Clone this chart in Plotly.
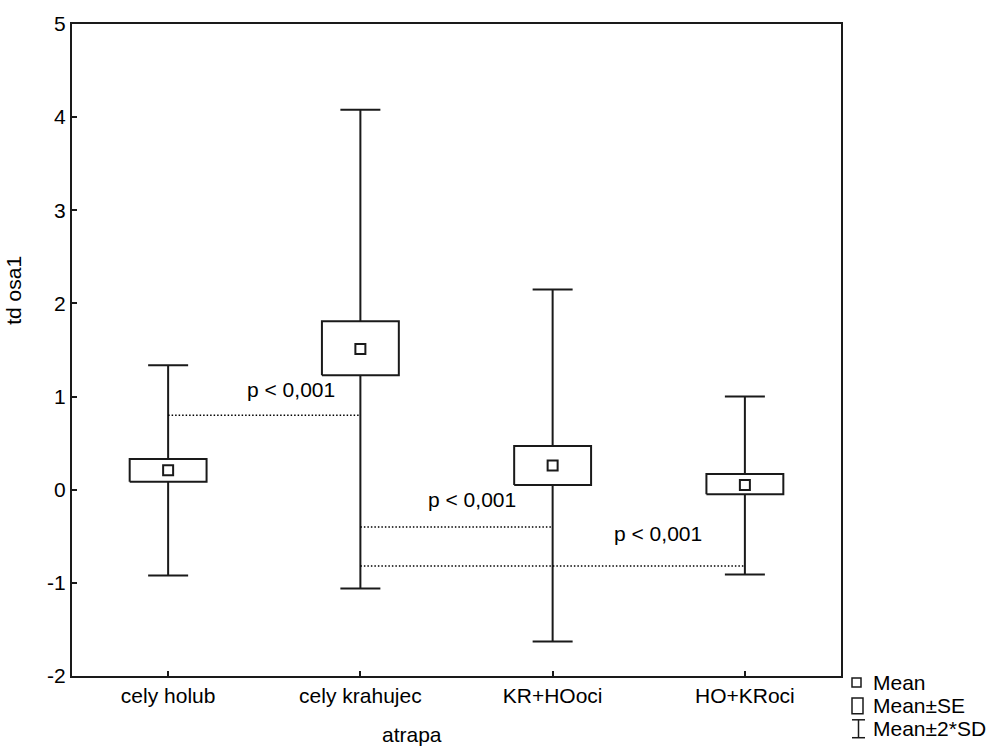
import plotly.graph_objects as go

categories = ["cely holub", "cely krahujec", "KR+HOoci", "HO+KRoci"]
mean_vals = [0.21, 1.51, 0.26, 0.05]
se_low = [0.085, 1.23, 0.05, -0.05]
se_high = [0.33, 1.81, 0.47, 0.17]
sd2_low = [-0.92, -1.06, -1.63, -0.91]
sd2_high = [1.335, 4.08, 2.15, 1.00]

# significance lines: (from category index, to category index, y level)
sig_from = [1, 2, 2]
sig_to = [2, 3, 4]
sig_y = [0.80, -0.40, -0.82]
sig_label = ["p < 0,001", "p < 0,001", "p < 0,001"]
sig_label_x = [1.64, 2.58, 3.55]
sig_label_y = [1.08, -0.10, -0.47]

y_ticks = [-2, -1, 0, 1, 2, 3, 4, 5]
y_ticktext = ["-2", "-1", "0", "1", "2", "3", "4", "5"]

FONT = "Liberation Sans, Arial, sans-serif"
INK = "#1a1a1a"
FS = 21

xs = list(range(1, len(categories) + 1))

fig = go.Figure()

# whiskers (Mean ± 2*SD)
fig.add_trace(go.Scatter(
    x=xs, y=mean_vals, mode="markers",
    marker=dict(size=1, color="rgba(0,0,0,0)"),
    error_y=dict(type="data", symmetric=False,
                 array=[h - m for h, m in zip(sd2_high, mean_vals)],
                 arrayminus=[m - l for m, l in zip(mean_vals, sd2_low)],
                 color=INK, thickness=2, width=20),
    hoverinfo="skip", showlegend=False))

# SE boxes
hw = 0.2
for x, lo, hi in zip(xs, se_low, se_high):
    fig.add_trace(go.Scatter(
        x=[x - hw, x + hw, x + hw, x - hw, x - hw],
        y=[lo, lo, hi, hi, lo],
        mode="lines", fill="toself", fillcolor="white",
        line=dict(color=INK, width=2),
        hoverinfo="skip", showlegend=False))

# mean markers
fig.add_trace(go.Scatter(
    x=xs, y=mean_vals, mode="markers",
    marker=dict(symbol="square", size=10, color="white",
                line=dict(color=INK, width=2)),
    showlegend=False))

# significance dotted lines
for a, b, yv in zip(sig_from, sig_to, sig_y):
    fig.add_trace(go.Scatter(
        x=[a, b], y=[yv, yv], mode="lines",
        line=dict(color="black", width=1.5, dash="1.5px,2px"),
        hoverinfo="skip", showlegend=False))

for lx, ly, t in zip(sig_label_x, sig_label_y, sig_label):
    fig.add_annotation(x=lx, y=ly, text=t, showarrow=False,
                       xref="x", yref="y", xanchor="center", yanchor="middle",
                       font=dict(family=FONT, size=FS, color="black"))

# layout geometry (pixels)
L, R, T, B = 72, 147, 21, 71
W, H = 988, 747
pw = W - L - R
ph = H - T - B


def px(xp):
    return (xp - L) / pw


def py(yp):
    return (H - B - yp) / ph


# axis titles
fig.add_annotation(x=px(412), y=py(735), xref="paper", yref="paper",
                   text="atrapa", showarrow=False,
                   xanchor="center", yanchor="middle",
                   font=dict(family=FONT, size=FS, color="black"))
fig.add_annotation(x=px(14), y=py(289), xref="paper", yref="paper",
                   text="td osa1", showarrow=False, textangle=-90,
                   xanchor="center", yanchor="middle",
                   font=dict(family=FONT, size=FS, color="black"))

# custom legend
legend_texts = ["Mean", "Mean±SE", "Mean±2*SD"]
legend_text_y = [683, 706, 729]
for t, yy in zip(legend_texts, legend_text_y):
    fig.add_annotation(x=px(871), y=py(yy), xref="paper", yref="paper",
                       text=t, showarrow=False, xanchor="left", yanchor="middle",
                       font=dict(family=FONT, size=FS, color="black"))

shapes = []
# small square
shapes.append(dict(type="rect", xref="paper", yref="paper",
                   x0=px(852), x1=px(861), y0=py(687), y1=py(678),
                   line=dict(color=INK, width=1.5), fillcolor="white"))
# SE box
shapes.append(dict(type="rect", xref="paper", yref="paper",
                   x0=px(852), x1=px(863), y0=py(714), y1=py(698),
                   line=dict(color=INK, width=1.5), fillcolor="white"))
# I-beam
for (x0, y0, x1, y1) in [(852, 720, 865, 720), (852, 738, 865, 738), (858.5, 720, 858.5, 738)]:
    shapes.append(dict(type="line", xref="paper", yref="paper",
                       x0=px(x0), x1=px(x1), y0=py(y0), y1=py(y1),
                       line=dict(color=INK, width=1.5)))
fig.update_layout(shapes=shapes)

fig.update_layout(
    width=W, height=H,
    margin=dict(l=L, r=R, t=T, b=B, pad=0),
    paper_bgcolor="white", plot_bgcolor="white",
    font=dict(family=FONT, size=FS, color="black"),
    showlegend=False,
    xaxis=dict(range=[0.5, 4.5], tickmode="array", tickvals=xs,
               ticktext=categories, showgrid=False, zeroline=False,
               showline=True, mirror=True, linecolor=INK, linewidth=2,
               ticks="inside", ticklen=5, tickwidth=1.5, tickcolor=INK,
               tickfont=dict(family=FONT, size=FS, color="black")),
    yaxis=dict(range=[-2, 5], tickmode="array", tickvals=y_ticks,
               ticktext=y_ticktext,
               showgrid=False, zeroline=False,
               showline=True, mirror=True, linecolor=INK, linewidth=2,
               ticks="inside", ticklen=5, tickwidth=1.5, tickcolor=INK,
               tickfont=dict(family=FONT, size=FS, color="black")),
)

fig.write_html("out.html",
               config={"displayModeBar": False},
               post_script="document.body.style.margin='0';document.body.style.padding='0';")
